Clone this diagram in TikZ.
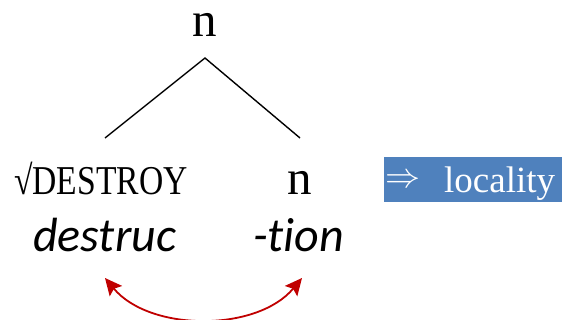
\documentclass[tikz,border=0pt]{standalone}
\usepackage{fontspec}
\setmainfont{Liberation Serif}
\newfontfamily\itfont[Ligatures=NoCommon]{Carlito}
\usetikzlibrary{arrows.meta}
\definecolor{boxblue}{HTML}{4F81BD}
\definecolor{arrred}{HTML}{C00000}
\tikzset{
  lbl/.style={inner sep=0pt, font=\fontsize{49}{51}\selectfont},
  itlbl/.style={inner sep=0pt, font=\fontsize{48}{50}\selectfont\itfont\itshape},
  tree/.style={line width=1.4pt, black},
  loc/.style={line width=1.8pt, arrred, {Stealth[length=17pt,width=16pt,inset=3pt]}-{Stealth[length=17pt,width=16pt,inset=3pt]}}
}
\begin{document}
\begin{tikzpicture}[x=1pt,y=1pt]
\useasboundingbox (0,0) rectangle (562,-320);
\node[lbl, anchor=base] (top) at (205,-37) {n};
\coordinate (apex) at (205,-58);
\coordinate (lend) at (105,-138);
\coordinate (rend) at (300,-138);
\draw[tree] (lend) -- (apex) -- (rend);
\node[inner sep=0pt, anchor=base west, font=\fontsize{41}{43}\selectfont] (root) at (14,-195) {\scalebox{0.82}[1]{√DESTROY}};
\node[lbl, anchor=base] (nleaf) at (300,-195) {n};
\node[itlbl, anchor=base west] (destruc) at (33,-252) {destruc};
\node[itlbl, anchor=base west] (tion) at (253,-252) {-tion};
\coordinate (al) at (105,-278);
\coordinate (ar) at (302,-278);
\draw[loc] (al) .. controls (150,-332) and (257,-332) .. (ar);
\node[fill=boxblue, anchor=north west, minimum width=178pt, minimum height=45pt, inner sep=0pt] (box) at (384,-157) {};
\node[inner sep=0pt, anchor=base west, text=white] (impl) at (385,-188) {\scalebox{3.5}{$\Rightarrow$}};
\node[inner sep=0pt, anchor=base west, text=white, font=\fontsize{37}{40}\selectfont] (locality) at (444,-193) {locality};
\end{tikzpicture}
\end{document}
